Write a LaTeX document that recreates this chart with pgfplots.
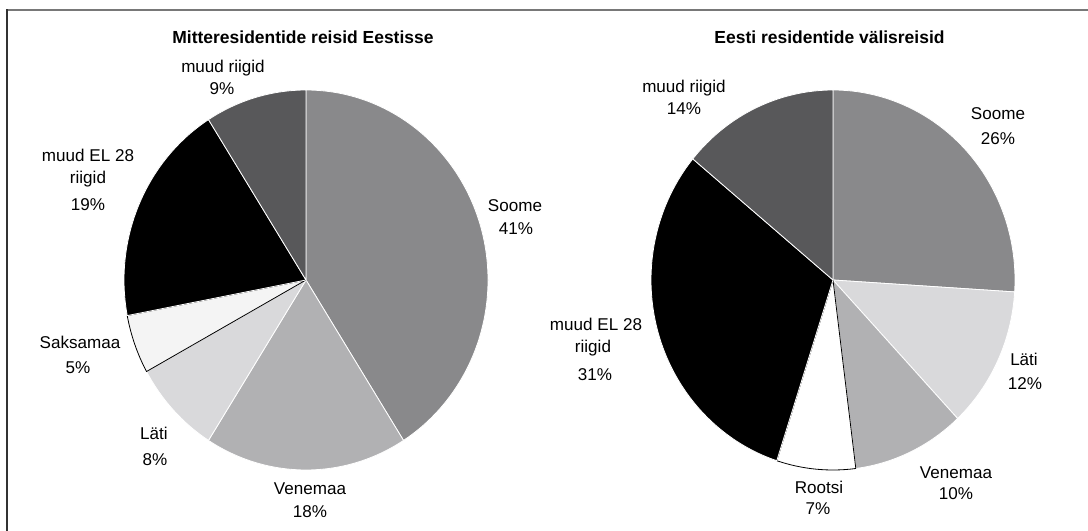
\documentclass[border=0pt]{standalone}
\usepackage{pgfplots}
\pgfplotsset{compat=1.18}
\usepackage{pgfplotstable}
\usepackage{fontspec}
\setmainfont{Liberation Sans}

\definecolor{cSoome}{RGB}{137,137,139}
\definecolor{cVene}{RGB}{177,177,179}
\definecolor{cLati}{RGB}{217,217,219}
\definecolor{cSaks}{RGB}{244,244,244}
\definecolor{cRoot}{RGB}{255,255,255}
\definecolor{cEL}{RGB}{0,0,0}
\definecolor{cMuud}{RGB}{88,88,90}
\definecolor{frameTop}{RGB}{120,120,120}
\definecolor{frameLeft}{RGB}{50,50,50}

% Mitteresidentide reisid Eestisse (share, %)
\pgfplotstableread{
name     pct col    edge
Soome    41  cSoome white
Venemaa  18  cVene  white
Lati     8   cLati  white
Saksamaa 5   cSaks  black
muudEL   19  cEL    white
muud     9   cMuud  white
}\tabA

% Eesti residentide valisreisid (share, %)
\pgfplotstableread{
name     pct col    edge
Soome    26  cSoome white
Lati     12  cLati  white
Venemaa  10  cVene  white
Rootsi   7   cRoot  black
muudEL   31  cEL    white
muud     14  cMuud  white
}\tabB

\def\rx{136.5pt}
\def\ry{142.5pt}

\newcommand\buildpie[2]{%
  \gdef#2{}%
  \gdef\curang{90}%
  \pgfplotstablegetrowsof{#1}%
  \pgfmathtruncatemacro\nlast{\pgfplotsretval-1}%
  \foreach \i in {0,...,\nlast}{%
    \pgfplotstablegetelem{\i}{pct}\of{#1}\let\pct\pgfplotsretval
    \pgfplotstablegetelem{\i}{col}\of{#1}\let\col\pgfplotsretval
    \pgfplotstablegetelem{\i}{edge}\of{#1}\let\edg\pgfplotsretval
    \pgfmathsetmacro\angA{\curang}%
    \pgfmathsetmacro\angB{\curang-3.6*\pct}%
    \pgfmathsetmacro\cA{cos(\angA)}%
    \pgfmathsetmacro\sA{sin(\angA)}%
    \xdef\curang{\angB}%
    \xdef#2{\unexpanded\expandafter{#2}\noexpand\filldraw[fill=\col,draw=\edg,line width=0.6pt,line join=round] (axis cs:0,0) -- (axis cs:\cA,\sA) arc[start angle=\angA,end angle=\angB,x radius=\noexpand\rx,y radius=\noexpand\ry] -- cycle;}%
  }%
}
\buildpie{\tabA}{\pieA}
\buildpie{\tabB}{\pieB}

\begin{document}
\begin{tikzpicture}
\begin{scope}[x=0.75pt,y=-0.75pt]
\useasboundingbox (0,0) rectangle (1088,531);
\draw[frameTop,line width=1.5pt] (6,10) -- (1088,10);
\draw[frameLeft,line width=1.5pt] (7,9.5) -- (7,531);
\end{scope}

\begin{axis}[at={(229.5pt,-210pt)},anchor=origin,hide axis,scale only axis,
  width=273pt,height=285pt,xmin=-1,xmax=1,ymin=-1,ymax=1,clip=false]
\pieA
\end{axis}

\begin{axis}[at={(624.75pt,-210pt)},anchor=origin,hide axis,scale only axis,
  width=273pt,height=285pt,xmin=-1,xmax=1,ymin=-1,ymax=1,clip=false]
\pieB
\end{axis}

\begin{scope}[x=0.75pt,y=-0.75pt]
\tikzset{lab/.style={anchor=base,inner sep=0pt,font=\fontsize{12.8pt}{15pt}\selectfont}}
% left
\node[lab,font=\fontsize{13.1pt}{15pt}\selectfont\bfseries] at (303,44) {Mitteresidentide reisid Eestisse};
\node[lab] at (223,72.5) {muud riigid};
\node[lab] at (222,95) {9\%};
\node[lab] at (88,161.7) {muud EL 28};
\node[lab] at (88,184) {riigid};
\node[lab] at (88,210.7) {19\%};
\node[lab] at (515,211) {Soome};
\node[lab] at (516,234) {41\%};
\node[lab] at (80,348.3) {Saksamaa};
\node[lab] at (78,373) {5\%};
\node[lab] at (154,439) {Läti};
\node[lab] at (155,465) {8\%};
\node[lab] at (310,494) {Venemaa};
\node[lab] at (310,517) {18\%};
% right
\node[lab,font=\fontsize{13.1pt}{15pt}\selectfont\bfseries] at (829.5,44) {Eesti residentide välisreisid};
\node[lab] at (684,93) {muud riigid};
\node[lab] at (684,115) {14\%};
\node[lab] at (998,120) {Soome};
\node[lab] at (998,145) {26\%};
\node[lab] at (596,330) {muud EL 28};
\node[lab] at (593,352) {riigid};
\node[lab] at (595,380) {31\%};
\node[lab] at (1024,365) {Läti};
\node[lab] at (1025,389) {12\%};
\node[lab] at (956,478) {Venemaa};
\node[lab] at (956,499) {10\%};
\node[lab] at (819,493) {Rootsi};
\node[lab] at (818,514) {7\%};
\end{scope}
\end{tikzpicture}
\end{document}
